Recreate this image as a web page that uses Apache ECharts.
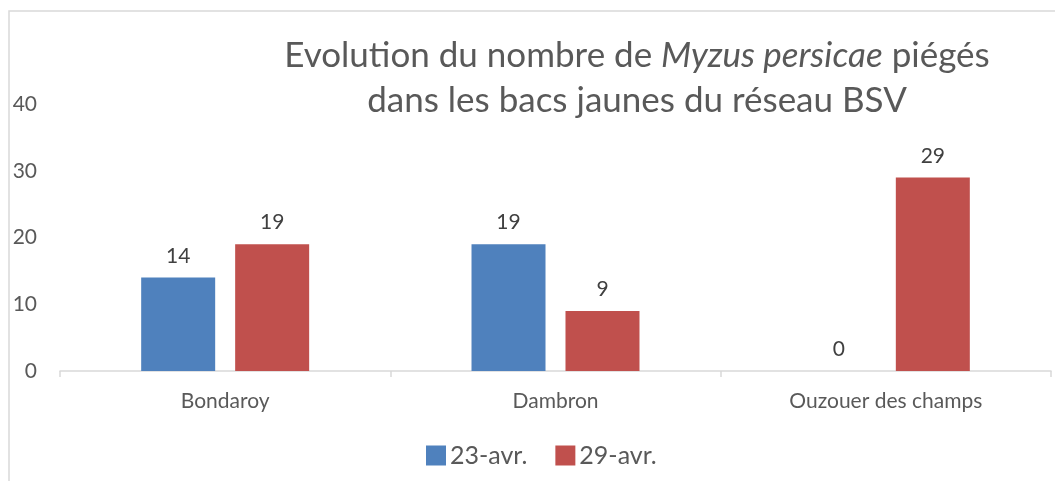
<!DOCTYPE html>
<html><head><meta charset="utf-8">
<script src="https://cdn.jsdelivr.net/npm/echarts@6/dist/echarts.min.js"></script>
<style>html,body{margin:0;padding:0;background:#fff}#c{width:1055px;height:481px}</style>
</head><body><div id="c"></div>
<script>
const categories = ['Bondaroy', 'Dambron', 'Ouzouer des champs'];
const seriesNames = ['23-avr.', '29-avr.'];
const values23 = [14, 19, 0];
const values29 = [19, 9, 29];
const yTicks = [0, 10, 20, 30, 40];

const FONT = 'Lato';
const chart = echarts.init(document.getElementById('c'));
const labelStyle = { show: true, position: 'top', distance: 11, color: '#404040', fontSize: 21, fontFamily: FONT };
chart.setOption({
  animation: false,
  textStyle: { fontFamily: FONT },
  graphic: [{ type: 'rect', shape: { x: 9, y: 11, width: 1100, height: 520 }, style: { fill: 'none', stroke: '#d9d9d9', lineWidth: 1.5 }, silent: true }],
  title: {
    text: '{n|Evolution du nombre de }{i|Myzus persicae}{n| piégés}\n{n|dans les bacs jaunes du réseau BSV}',
    left: 632, textAlign: 'center', top: 28,
    textStyle: {
      fontWeight: 'normal',
      rich: {
        n: { fontSize: 35, fontFamily: FONT, fontWeight: 'normal', color: '#595959', lineHeight: 45 },
        i: { fontSize: 35, fontFamily: FONT, fontWeight: 'normal', color: '#595959', fontStyle: 'italic', lineHeight: 45 }
      }
    }
  },
  legend: {
    data: seriesNames, left: 421, top: 438, itemWidth: 20, itemHeight: 20, itemGap: 28,
    icon: 'rect', textStyle: { fontSize: 25, color: '#595959', fontFamily: FONT, padding: [0, 0, 0, -1] }
  },
  grid: { left: 60, right: 4, top: 104, bottom: 110, containLabel: false },
  xAxis: {
    type: 'category', data: categories,
    axisLine: { lineStyle: { color: '#d9d9d9', width: 1.5 } },
    axisTick: { show: true, length: 6, lineStyle: { color: '#d9d9d9', width: 1.5 } },
    axisLabel: { color: '#595959', fontSize: 21, fontFamily: FONT, margin: 20 }
  },
  yAxis: {
    type: 'value', min: yTicks[0], max: yTicks[yTicks.length - 1], interval: 10,
    axisLine: { show: false }, axisTick: { show: false }, splitLine: { show: false },
    axisLabel: { color: '#595959', fontSize: 21, fontFamily: FONT, margin: 23 }
  },
  series: [
    { name: seriesNames[0], type: 'bar', data: values23, barWidth: 74, barGap: '27%', itemStyle: { color: '#4f81bd' }, label: labelStyle },
    { name: seriesNames[1], type: 'bar', data: values29, barWidth: 74, itemStyle: { color: '#c0504d' }, label: labelStyle }
  ]
});
</script></body></html>
